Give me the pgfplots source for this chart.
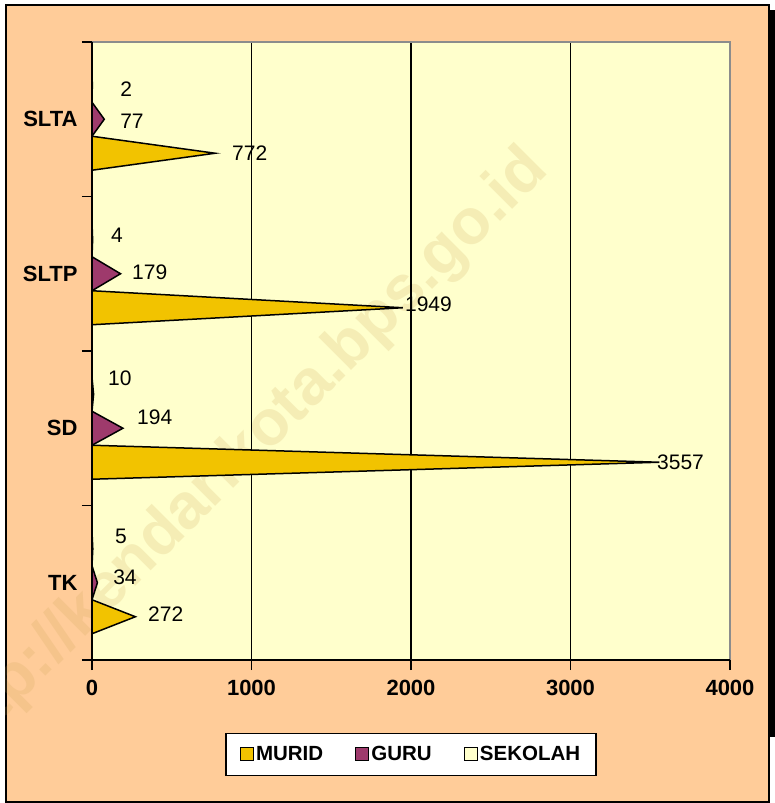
\documentclass[border=0pt]{standalone}
\usepackage{pgfplots}
\pgfplotsset{compat=1.18}
\usepackage{fontspec}
\setmainfont{Liberation Sans}

\definecolor{peach}{HTML}{FFCC99}
\definecolor{paleyel}{HTML}{FFFFCC}
\definecolor{murid}{HTML}{F2C300}
\definecolor{guru}{HTML}{9E3A6C}
\definecolor{sekolah}{HTML}{FFFFCC}
\definecolor{edgegray}{HTML}{8C8C8C}
\definecolor{wmark}{HTML}{C8A050}

\newcommand{\tickfont}{\bfseries\fontsize{22}{26}\selectfont}
\newcommand{\valfont}{\fontsize{21}{25}\selectfont}

\begin{document}
\begin{tikzpicture}[x=1pt,y=1pt]
\useasboundingbox (-92,-143) rectangle (683,660);
% outer frame
\fill[black] (677,-77) rectangle (683,650);
\draw[fill=peach, line width=1.5pt] (-86,-142) rectangle (677,655);
% plot area background
\fill[paleyel] (0,0) rectangle (638,618);

% watermark
\begin{scope}
\clip (-86,-142) rectangle (677,655);
\node[rotate=45, anchor=base east, inner sep=0pt, text=wmark, opacity=0.18,
      font=\bfseries\fontsize{64}{70}\selectfont] at (458,488) {http://kendarikota.bps.go.id};
\end{scope}

\begin{axis}[
    at={(0,0)}, anchor=south west,
    scale only axis,
    width=638pt, height=618pt,
    xmin=0, xmax=4000,
    ymin=-0.5, ymax=3.5,
    axis x line=bottom, axis y line=left,
    axis line style={-, draw=none},
    xtick={0,1000,2000,3000,4000},
    xmajorgrids,
    grid style={black, line width=1.2pt},
    ytick={-0.5,0.5,1.5,2.5,3.5},
    yticklabels={},
    extra y ticks={0,1,2,3},
    extra y tick labels={TK,SD,SLTP,SLTA},
    extra y tick style={major tick length=0pt, grid=none},
    tick align=outside,
    major tick length=10pt,
    tick style={black, line width=1.5pt},
    /pgf/number format/assume math mode=true,
    /pgf/number format/1000 sep={},
    xticklabel style={font=\tickfont, yshift=-7pt},
    yticklabel style={font=\tickfont, xshift=-11pt},
    clip=false,
    legend columns=3,
    legend style={at={(0.5,-0.118)}, anchor=north, draw=black, line width=1.5pt,
        fill=white, font=\bfseries\fontsize{20.5}{24}\selectfont,
        inner xsep=14pt, inner ysep=11pt,
        /tikz/every even column/.append style={column sep=30pt}},
    legend image code/.code={\draw[#1, line width=1.2pt] (0pt,-6pt) rectangle (13pt,7pt);},
]

% MURID (bottom bar of each group)
\addplot[fill=murid, draw=black, line width=1.5pt] coordinates {
    (0,-0.33) (272,-0.22) (0,-0.11)
    (0,0.67) (3557,0.78) (0,0.89)
    (0,1.67) (1949,1.78) (0,1.89)
    (0,2.67) (772,2.78) (0,2.89)
};
\addlegendentry{MURID}

% GURU (middle bar)
\addplot[fill=guru, draw=black, line width=1.5pt] coordinates {
    (0,-0.11) (34,0.00) (0,0.11)
    (0,0.89) (194,1.00) (0,1.11)
    (0,1.89) (179,2.00) (0,2.11)
    (0,2.89) (77,3.00) (0,3.11)
};
\addlegendentry{GURU}

% SEKOLAH (top bar)
\addplot[fill=sekolah, draw=black, line width=1.5pt] coordinates {
    (0,0.11) (5,0.22) (0,0.33)
    (0,1.11) (10,1.22) (0,1.33)
    (0,2.11) (4,2.22) (0,2.33)
    (0,3.11) (2,3.22) (0,3.33)
};
\addlegendentry{SEKOLAH}

% value labels
\addplot[draw=none, mark=none, forget plot,
    nodes near coords, point meta=explicit symbolic,
    every node near coord/.append style={anchor=west, inner sep=0pt, font=\valfont, text=black}]
    coordinates {
    (351,-0.202) [272]
    (132,0.037) [34]
    (144,0.303) [5]
    (3542,0.782) [3557]
    (282,1.073) [194]
    (100,1.325) [10]
    (1962,1.804) [1949]
    (251,2.011) [179]
    (119,2.251) [4]
    (878,2.782) [772]
    (176,2.989) [77]
    (176,3.196) [2]
};

\end{axis}
% plot area edges
\draw[edgegray, line width=2.5pt] (0,618) -- (638,618) -- (638,0);
\draw[black, line width=1.5pt] (0,618) -- (0,0) -- (638,0);
\end{tikzpicture}
\end{document}
